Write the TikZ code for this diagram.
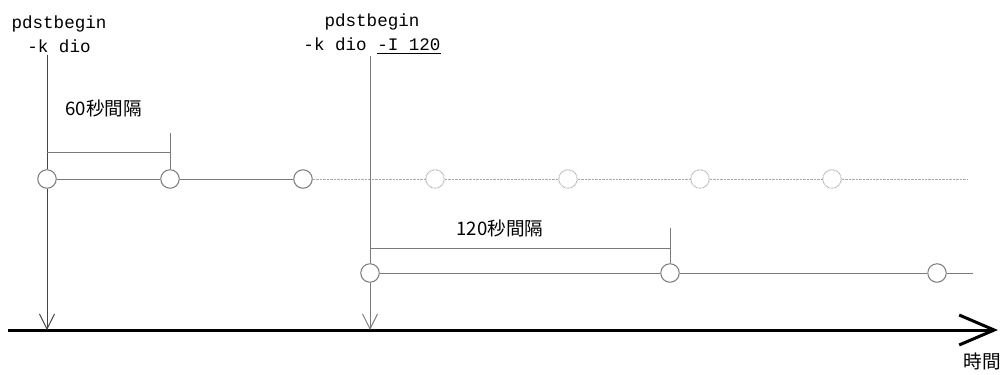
\documentclass[tikz,border=0pt]{standalone}
\usepackage{fontspec}
\setmainfont{Liberation Mono}
\newfontfamily\jpfont{Noto Sans CJK JP}
\usepackage{xcolor}
\definecolor{xamdam}{HTML}{444444}
\definecolor{xamvua}{HTML}{7A7A7A}
\definecolor{xamnhat}{HTML}{A8A8A8}
\def\mauchinh{xamdam}
\def\mauphu{xamvua}
\def\maunhat{xamnhat}
\usetikzlibrary{arrows.meta,positioning}

\begin{document}
\begin{tikzpicture}[x=0.2mm,y=-0.2mm,line width=0.2mm,font=\fontsize{10}{13.6}\selectfont,
	vong/.style={circle,draw=\mauphu,fill=white,minimum size=3.7mm,inner sep=0pt},
	vongmo/.style={vong,draw=\maunhat,dash pattern=on 0.4pt off 0.4pt},
	nhan/.style={align=center,inner sep=1pt},
	chujp/.style={anchor=west,inner sep=0pt,font=\jpfont\fontsize{10.6}{12}\selectfont},
	muiten/.style={-{Straight Barb[length=3mm,width=3mm]}}]
	\useasboundingbox (0,0) rectangle (1000,374);
	%%Trục thời gian
	\coordinate (T0) at (8,330);
	\coordinate (T1) at (998,330);
	\draw[black,line width=0.6mm,-{Straight Barb[length=7mm,width=6mm]}] (T0)--(T1);
	\node[chujp] (tg) at (963,361) {時間};
	%%Nhãn lệnh
	\node[nhan] (nhan1) at (59,34) {pdstbegin\\-k dio};
	\node[nhan] (nhan2) at (372,34) {pdstbegin\\-k dio \underline{-I 120}};
	%%Hàng 1: 60 giây
	\foreach [count=\i from 1] \x in {47,170,303}{%
		\node[vong] (A\i) at (\x,179) {};
	}
	\foreach [count=\i from 4] \x in {435,568,700,832}{%
		\node[vongmo] (A\i) at (\x,179) {};
	}
	\coordinate (A8) at (967,179);
	\draw[\mauphu] (A1)--(A2)--(A3);
	\draw[\maunhat,dash pattern=on 0.4pt off 0.4pt] (A3)--(A4)--(A5)--(A6)--(A7)--(A8);
	%%Hàng 2: 120 giây
	\foreach [count=\i from 1] \x in {370,670,937}{%
		\node[vong] (B\i) at (\x,273) {};
	}
	\coordinate (B4) at (973,273);
	\draw[\mauphu] (B1)--(B2)--(B3)--(B4);
	%%Đường dọc
	\coordinate (D1) at (47,330);
	\coordinate (D2) at (370,330);
	\draw[\mauchinh] (nhan1.south -| A1)--(A1);
	\draw[\mauchinh,muiten] (A1)--(D1);
	\draw[\mauphu] (nhan2.south -| B1)--(B1);
	\draw[\mauphu,muiten] (B1)--(D2);
	%%Khoảng cách
	\coordinate (K1) at (170,133);
	\coordinate (K2) at (670,228);
	\draw[\mauphu] (K1)--(A2);
	\draw[\mauphu] (A1 |- 0,152)--(A2 |- 0,152);
	\draw[\mauphu] (K2)--(B2);
	\draw[\mauphu] (B1 |- 0,248)--(B2 |- 0,248);
	\node[chujp] (kc1) at (65,108) {60秒間隔};
	\node[chujp] (kc2) at (456,228) {120秒間隔};
\end{tikzpicture}
\end{document}
